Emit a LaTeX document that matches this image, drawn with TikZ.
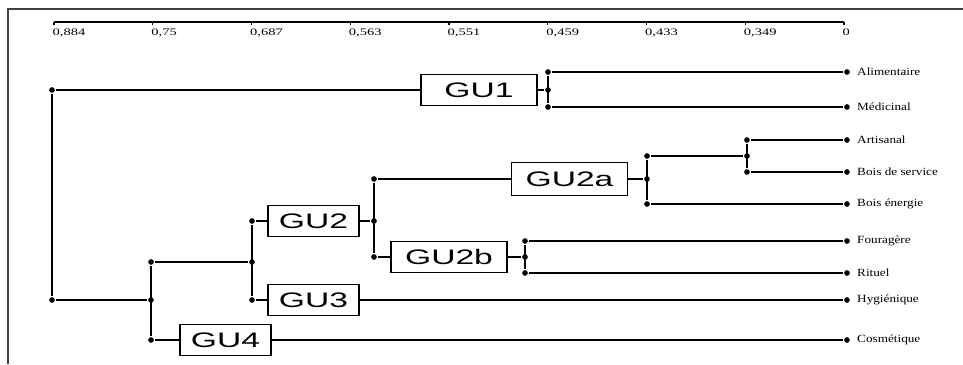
\documentclass[tikz,border=0pt]{standalone}
\usepackage{fontspec}
\setmainfont{Liberation Serif}
\newfontfamily\gufont{Liberation Sans}
\usepackage{tikz}
\usetikzlibrary{positioning}

\newcommand{\leaftxt}[1]{\scalebox{1.2}[1]{\fontsize{11}{11}\selectfont #1}}
\newcommand{\axistxt}[1]{\scalebox{1.45}[1]{\fontsize{10}{10}\selectfont #1}}
\newcommand{\gutxt}[1]{\scalebox{1.6}[1]{\gufont\fontsize{21}{21}\selectfont #1}}

\begin{document}
\begin{tikzpicture}[x=1pt, y=-1pt, line width=1.4pt,
  pt/.style={circle, fill, inner sep=2pt},
  grp/.style={draw, line width=1.3pt, inner sep=0pt, minimum height=31pt, minimum width=91pt},
  wide/.style={minimum width=116pt},
  leaf/.style={anchor=west, inner sep=0pt}]
\useasboundingbox (0,0) rectangle (963,364);

% frame and scale
\draw[line width=1.8pt, black!75] (8,364) -- (8,9) -- (963,9);
\draw (54,22) -- (844,22);
\foreach \v [count=\i from 0] in {{0,884},{0,75},{0,687},{0,563},{0,551},{0,459},{0,433},{0,349},{0}} {
  \draw (54+98.75*\i,22) -- (54+98.75*\i,25);
  \node[anchor=north west, inner sep=0pt] (s\i) at (52+98.75*\i,28) {\axistxt{\v}};
}

% root
\node[pt] (r1) at (52,90) {};
\node[pt] (r2) at (52,300) {};
\draw (r1) -- (r2);

% GU1
\node[grp, wide] (gu1) at (479,90) {\gutxt{GU1}};
\node[pt] (j1) at (548,90) {};
\node[pt] (j1a) at (548,72) {};
\node[pt] (j1b) at (548,107) {};
\node[pt] (l1) at (847,72) {};
\node[pt] (l2) at (847,107) {};
\draw (r1) -- (gu1);
\draw (gu1) -- (j1);
\draw (j1a) -- (j1b);
\draw (j1a) -- (l1);
\draw (j1b) -- (l2);

% lower branch
\node[pt] (n4) at (151,300) {};
\node[pt] (n4a) at (151,262) {};
\node[pt] (n4b) at (151,340) {};
\draw (r2) -- (n4);
\draw (n4a) -- (n4b);

% GU4
\node[grp] (gu4) at (225.5,340) {\gutxt{GU4}};
\node[pt] (l9) at (847,340) {};
\draw (n4b) -- (gu4);
\draw (gu4) -- (l9);

\node[pt] (n3) at (252,262) {};
\node[pt] (n3a) at (252,221) {};
\node[pt] (n3b) at (252,300) {};
\draw (n4a) -- (n3);
\draw (n3a) -- (n3b);

% GU3
\node[grp] (gu3) at (313.5,300) {\gutxt{GU3}};
\node[pt] (l8) at (847,300) {};
\draw (n3b) -- (gu3);
\draw (gu3) -- (l8);

% GU2
\node[grp] (gu2) at (313.5,221) {\gutxt{GU2}};
\node[pt] (n2) at (374,221) {};
\node[pt] (n2a) at (374,179) {};
\node[pt] (n2b) at (374,257) {};
\draw (n3a) -- (gu2);
\draw (gu2) -- (n2);
\draw (n2a) -- (n2b);

% GU2a
\node[grp, wide, minimum height=33pt] (gu2a) at (569.5,179) {\gutxt{GU2a}};
\node[pt] (n5) at (647,179) {};
\node[pt] (n5a) at (647,156) {};
\node[pt] (n5b) at (647,204) {};
\node[pt] (n6a) at (747,140) {};
\node[pt] (n6) at (747,156) {};
\node[pt] (n6b) at (747,172) {};
\node[pt] (l3) at (847,140) {};
\node[pt] (l4) at (847,172) {};
\node[pt] (l5) at (847,204) {};
\draw (n2a) -- (gu2a);
\draw (gu2a) -- (n5);
\draw (n5a) -- (n5b);
\draw (n5a) -- (n6);
\draw (n6a) -- (n6b);
\draw (n6a) -- (l3);
\draw (n6b) -- (l4);
\draw (n5b) -- (l5);

% GU2b
\node[grp, wide] (gu2b) at (449,257) {\gutxt{GU2b}};
\node[pt] (n7) at (525,257) {};
\node[pt] (n7a) at (525,241) {};
\node[pt] (n7b) at (525,273) {};
\node[pt] (l6) at (847,241) {};
\node[pt] (l7) at (847,273) {};
\draw (n2b) -- (gu2b);
\draw (gu2b) -- (n7);
\draw (n7a) -- (n7b);
\draw (n7a) -- (l6);
\draw (n7b) -- (l7);

% leaf labels
\node[leaf, right=6pt of l1] (t1) {\leaftxt{Alimentaire}};
\node[leaf, right=6pt of l2] (t2) {\leaftxt{Médicinal}};
\node[leaf, right=6pt of l3] (t3) {\leaftxt{Artisanal}};
\node[leaf, right=6pt of l4] (t4) {\leaftxt{Bois de service}};
\node[leaf, right=6pt of l5] (t5) {\leaftxt{Bois énergie}};
\node[leaf, right=6pt of l6] (t6) {\leaftxt{Fouragère}};
\node[leaf, right=6pt of l7] (t7) {\leaftxt{Rituel}};
\node[leaf, right=6pt of l8] (t8) {\leaftxt{Hygiénique}};
\node[leaf, right=6pt of l9] (t9) {\leaftxt{Cosmétique}};
\end{tikzpicture}
\end{document}
